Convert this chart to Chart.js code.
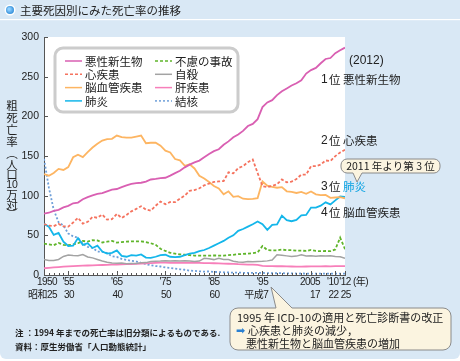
<!DOCTYPE html>
<html lang="ja">
<head>
<meta charset="utf-8">
<script src="https://cdn.jsdelivr.net/npm/chart.js@4.4.1/dist/chart.umd.min.js"></script>
<style>
  html, body { margin: 0; padding: 0; background: #fff; }
  #panel { position: absolute; left: 0; top: 0; width: 460px; height: 359px; background: #d9e8f5; border-radius: 0 0 6px 6px; }
  #c { position: absolute; left: 0; top: 0; }
</style>
</head>
<body>
<div id="panel"></div>
<canvas id="c" width="460" height="361"></canvas>
<script>
// 死亡率（人口10万対）
const years = [
  1950, 1951, 1952, 1953, 1954, 1955, 1956, 1957, 1958, 1959,
  1960, 1961, 1962, 1963, 1964, 1965, 1966, 1967, 1968, 1969,
  1970, 1971, 1972, 1973, 1974, 1975, 1976, 1977, 1978, 1979,
  1980, 1981, 1982, 1983, 1984, 1985, 1986, 1987, 1988, 1989,
  1990, 1991, 1992, 1993, 1994, 1995, 1996, 1997, 1998, 1999,
  2000, 2001, 2002, 2003, 2004, 2005, 2006, 2007, 2008, 2009,
  2010, 2011, 2012
];
const cancer = [
  77.4, 78.5, 80.8, 82.2, 85.3, 87.1, 90.4, 91.3, 95.5, 98.2,
  100.4, 102.3, 103.2, 105.5, 107.6, 108.4, 110.8, 113.0, 114.8, 115.9,
  116.3, 117.7, 120.4, 121.2, 122.2, 122.6, 125.3, 128.4, 131.3, 135.7,
  139.1, 142.0, 144.2, 148.3, 152.5, 156.1, 158.5, 164.2, 168.4, 173.6,
  177.2, 181.7, 187.8, 190.4, 196.4, 211.6, 217.5, 220.4, 226.7, 231.6,
  235.2, 238.8, 241.7, 245.4, 253.9, 258.3, 261.0, 266.9, 272.3, 273.5,
  279.7, 283.2, 286.6
];
const heart = [
  64.2, 62.2, 61.6, 64.4, 61.4, 60.9, 66.1, 72.1, 64.8, 67.0,
  73.2, 72.1, 76.2, 69.8, 70.4, 77.0, 71.9, 75.7, 80.2, 83.3,
  86.7, 82.4, 81.2, 87.3, 92.6, 89.2, 92.0, 91.8, 96.3, 100.2,
  106.2, 107.1, 109.3, 113.0, 115.3, 117.3, 117.9, 118.4, 129.4, 128.1,
  134.8, 137.2, 142.2, 145.6, 128.6, 112.0, 110.8, 112.2, 114.3, 120.4,
  116.8, 117.8, 121.0, 126.5, 126.5, 137.2, 137.2, 139.2, 144.4, 143.7,
  149.8, 154.5, 157.9
];
const stroke = [
  127.1, 125.2, 128.5, 133.7, 132.4, 136.1, 148.4, 151.7, 148.6, 154.9,
  160.7, 165.4, 169.4, 171.4, 171.7, 175.8, 173.8, 173.1, 173.1, 174.4,
  175.8, 166.1, 166.7, 166.8, 163.0, 156.7, 154.5, 146.2, 144.6, 137.7,
  139.5, 134.3, 125.0, 121.6, 117.2, 112.2, 109.1, 101.7, 105.5, 98.5,
  99.4, 96.2, 95.6, 96.0, 96.9, 117.9, 112.6, 111.0, 110.0, 110.8,
  105.5, 104.7, 103.4, 104.7, 102.3, 105.3, 101.7, 100.8, 100.9, 97.2,
  97.7, 98.2, 96.5
];
const pneumonia = [
  64.5, 60.8, 50.6, 53.0, 42.0, 36.5, 37.0, 46.6, 38.0, 40.0,
  34.0, 37.0, 29.5, 27.0, 28.0, 31.0, 24.0, 23.0, 25.0, 24.5,
  26.0, 22.0, 21.5, 23.0, 25.0, 25.5, 23.0, 22.5, 23.0, 25.0,
  27.0, 28.0, 30.0, 31.5, 34.0, 37.0, 40.0, 43.0, 47.0, 50.0,
  55.6, 58.0, 61.0, 64.0, 67.5, 64.1, 56.9, 63.1, 63.8, 74.9,
  69.2, 67.8, 69.4, 75.3, 75.7, 85.0, 85.0, 87.4, 91.6, 89.0,
  94.1, 98.9, 98.4
];
const accident = [
  39.5, 38.5, 37.5, 40.5, 38.0, 37.5, 38.5, 40.0, 43.0, 42.0,
  44.0, 43.5, 41.0, 42.0, 43.0, 40.9, 41.5, 42.0, 42.5, 42.5,
  42.5, 41.5, 40.0, 38.0, 33.0, 30.3, 28.0, 27.0, 26.0, 25.5,
  25.1, 24.5, 24.5, 24.5, 24.5, 24.6, 24.5, 24.4, 25.0, 25.5,
  26.2, 26.5, 27.0, 27.5, 28.5, 36.5, 31.4, 31.1, 31.1, 32.0,
  31.4, 31.4, 30.7, 30.7, 30.3, 31.6, 30.3, 30.1, 30.3, 30.0,
  32.2, 47.1, 32.6
];
const suicide = [
  19.6, 18.2, 18.2, 19.6, 23.4, 25.2, 24.5, 24.3, 25.7, 22.7,
  21.6, 19.6, 17.6, 16.1, 15.1, 14.7, 15.2, 14.2, 14.5, 14.5,
  15.3, 15.6, 17.0, 17.4, 17.5, 18.0, 17.6, 17.9, 17.6, 18.0,
  17.7, 17.1, 17.5, 21.0, 20.4, 19.4, 21.2, 19.6, 19.4, 17.3,
  16.4, 16.1, 16.9, 16.6, 16.9, 17.2, 17.8, 18.8, 25.4, 25.0,
  24.1, 23.3, 23.8, 25.5, 24.0, 24.2, 23.7, 24.4, 24.0, 24.4,
  23.4, 22.9, 21.0
];
const liver = [
  8.5, 9.0, 9.5, 10.0, 10.5, 11.0, 11.3, 11.5, 11.8, 12.0,
  12.2, 12.4, 12.6, 12.8, 13.0, 13.2, 13.4, 13.6, 13.8, 14.0,
  14.5, 14.8, 15.0, 15.3, 15.5, 15.5, 15.4, 15.3, 15.2, 15.2,
  15.2, 15.3, 15.2, 15.0, 14.9, 14.8, 14.6, 14.4, 14.2, 14.0,
  13.6, 13.4, 13.2, 13.0, 12.7, 11.5, 11.3, 11.1, 11.0, 11.0,
  10.8, 10.7, 10.6, 10.6, 10.7, 10.8, 10.8, 10.9, 11.0, 10.9,
  11.1, 11.2, 11.1
];
const tb = [
  146.4, 110.3, 82.2, 66.5, 62.4, 52.3, 48.6, 46.9, 39.4, 35.5,
  34.2, 29.6, 29.3, 27.7, 23.6, 22.8, 20.3, 19.0, 17.8, 17.0,
  15.4, 13.7, 12.3, 11.3, 10.7, 9.5, 8.9, 8.0, 7.2, 6.6,
  5.5, 5.2, 4.6, 4.3, 4.5, 3.9, 3.7, 3.4, 3.2, 3.0,
  3.0, 2.8, 2.7, 2.6, 2.6, 2.6, 2.3, 2.2, 2.2, 2.3,
  2.1, 2.0, 1.8, 1.9, 1.8, 1.8, 1.8, 1.7, 1.8, 1.7,
  1.7, 1.7, 1.7
];

// x軸の目盛ラベル（西暦と和暦）
const tickYears = [1950, 1955, 1965, 1975, 1985, 1995, 2005, 2010, 2012];
const tickLabels = ['1950', "'55", "'65", "'75", "'85", "'95", '2005', "'10", "'12"];
const eraLabels = ['昭和25', '30', '40', '50', '60', '平成7', '17', '22', '25'];

const LAT = '"Liberation Sans", "Noto Sans CJK JP", sans-serif';
const JP = '"Noto Sans CJK JP", sans-serif';

function pts(arr) {
  return arr.map((v, i) => ({ x: years[i], y: v }));
}

function rrect(ctx, x, y, w, h, r) {
  ctx.beginPath();
  ctx.moveTo(x + r, y);
  ctx.arcTo(x + w, y, x + w, y + h, r);
  ctx.arcTo(x + w, y + h, x, y + h, r);
  ctx.arcTo(x, y + h, x, y, r);
  ctx.arcTo(x, y, x + w, y, r);
  ctx.closePath();
}

const deco = {
  id: 'deco',
  beforeDraw(chart) {
    const { ctx, chartArea: a } = chart;
    ctx.save();
    ctx.fillStyle = '#fff';
    ctx.fillRect(a.left, a.top, a.right - a.left, a.bottom - a.top);
    ctx.restore();
  },
  afterDraw(chart) {
    const { ctx, chartArea: a } = chart;
    const xs = chart.scales.x, ys = chart.scales.y;
    ctx.save();

    // title bar
    ctx.fillStyle = '#fff';
    ctx.fillRect(0, 19, 460, 1.2);
    const g = ctx.createRadialGradient(9, 9, 1, 10, 10, 5);
    g.addColorStop(0, '#8fd0ff');
    g.addColorStop(1, '#1f7fd0');
    ctx.beginPath();
    ctx.arc(10, 10, 5.5, 0, Math.PI * 2);
    ctx.fillStyle = '#fff';
    ctx.fill();
    ctx.beginPath();
    ctx.arc(10, 10, 4, 0, Math.PI * 2);
    ctx.fillStyle = g;
    ctx.fill();
    ctx.fillStyle = '#222';
    ctx.font = '11.5px ' + JP;
    ctx.textBaseline = 'middle';
    ctx.textAlign = 'left';
    ctx.fillText('主要死因別にみた死亡率の推移', 20, 10.5);

    // inner ticks
    ctx.strokeStyle = '#555';
    ctx.lineWidth = 1;
    ys.ticks.forEach(t => {
      const py = Math.round(ys.getPixelForValue(t.value)) + 0.5;
      ctx.beginPath();
      ctx.moveTo(a.left, py);
      ctx.lineTo(a.left + 4, py);
      ctx.stroke();
    });
    years.forEach(yr => {
      const px = Math.round(xs.getPixelForValue(yr)) + 0.5;
      const len = tickYears.includes(yr) ? 4 : 2;
      ctx.beginPath();
      ctx.moveTo(px, a.bottom);
      ctx.lineTo(px, a.bottom - len);
      ctx.stroke();
    });

    // x labels
    ctx.fillStyle = '#222';
    ctx.font = '10px ' + LAT;
    ctx.letterSpacing = '-0.5px';
    const nudge = [3, 0, 0, 0, 0, 0, -1, -2.5, 0];
    tickYears.forEach((yr, i) => {
      const px = xs.getPixelForValue(yr) + nudge[i];
      const w = ctx.measureText(tickLabels[i]).width;
      ctx.textAlign = 'center';
      ctx.fillText(tickLabels[i], px, a.bottom + 7);
      ctx.textAlign = 'right';
      ctx.fillText(eraLabels[i], px + w / 2, a.bottom + 20);
    });
    ctx.textAlign = 'left';
    ctx.fillText('(年)', xs.getPixelForValue(2012) + 8, a.bottom + 7);
    ctx.letterSpacing = '0px';

    // y title (vertical)
    const yt = ['粗', '死', '亡', '率', '︵', '人', '口', '10', '万', '対', '︶'];
    const yy = [106, 118, 130, 142, 154, 165, 175, 185, 195, 205, 214];
    ctx.textAlign = 'center';
    yt.forEach((c, i) => {
      ctx.font = (c === '10' ? '10.5px ' + LAT : '11.5px ' + JP);
      ctx.fillText(c, 12, yy[i]);
    });

    // legend
    const lx = a.left + 11, ly = a.top + 11;
    rrect(ctx, lx, ly, 183, 64, 8);
    ctx.fillStyle = '#fff';
    ctx.fill();
    ctx.lineWidth = 3;
    ctx.strokeStyle = '#cccccc';
    ctx.stroke();
    const cols = [[0, 1, 2, 3], [4, 5, 6, 7]];
    const colX = [lx + 10, lx + 100];
    ctx.font = '11.5px ' + JP;
    ctx.textAlign = 'left';
    cols.forEach((col, ci) => {
      col.forEach((di, ri) => {
        const ds = chart.data.datasets[di];
        const y = ly + 13 + ri * 13.3;
        ctx.beginPath();
        ctx.setLineDash(ds.borderDash || []);
        ctx.lineWidth = 1.5;
        ctx.strokeStyle = ds.borderColor;
        ctx.moveTo(colX[ci], y);
        ctx.lineTo(colX[ci] + 17, y);
        ctx.stroke();
        ctx.setLineDash([]);
        ctx.fillStyle = '#222';
        ctx.fillText(ds.label, colX[ci] + 20, y + 0.5);
      });
    });

    // ranking notes
    ctx.fillStyle = '#222';
    ctx.font = '12px ' + LAT;
    ctx.fillText('(2012)', 349, 61);
    const ranks = [['1', '悪性新生物', 80], ['2', '心疾患', 141], ['3', '肺炎', 187], ['4', '脳血管疾患', 213]];
    ranks.forEach(r => {
      ctx.font = '12px ' + LAT;
      ctx.fillStyle = '#222';
      ctx.fillText(r[0], 321, r[2]);
      ctx.font = '11.5px ' + JP;
      ctx.fillText('位', 329, r[2]);
      ctx.fillStyle = r[0] === '3' ? '#0aa2e2' : '#222';
      ctx.fillText(r[1], 343, r[2]);
    });

    // callout 2011
    ctx.beginPath();
    ctx.moveTo(347, 159);
    ctx.lineTo(434, 159);
    ctx.arcTo(440, 159, 440, 166, 6);
    ctx.arcTo(440, 173, 434, 173, 6);
    ctx.lineTo(362, 173);
    ctx.lineTo(357, 182);
    ctx.lineTo(353, 173);
    ctx.lineTo(347, 173);
    ctx.arcTo(341, 173, 341, 166, 6);
    ctx.arcTo(341, 159, 347, 159, 6);
    ctx.closePath();
    ctx.fillStyle = '#fbf4e0';
    ctx.fill();
    ctx.lineWidth = 1;
    ctx.strokeStyle = '#8a8a8a';
    ctx.stroke();
    ctx.fillStyle = '#222';
    ctx.font = '10.5px ' + JP;
    ctx.textAlign = 'center';
    ctx.fillText('2011 年より第 3 位', 390.5, 166.5);

    // callout 1995
    const bx = 230, by = 308, bw = 221, bh = 42, br = 8;
    ctx.beginPath();
    ctx.moveTo(bx + br, by);
    ctx.lineTo(276, by);
    ctx.lineTo(271, 287);
    ctx.lineTo(292, by);
    ctx.lineTo(bx + bw - br, by);
    ctx.arcTo(bx + bw, by, bx + bw, by + br, br);
    ctx.arcTo(bx + bw, by + bh, bx + bw - br, by + bh, br);
    ctx.arcTo(bx, by + bh, bx, by + bh - br, br);
    ctx.arcTo(bx, by, bx + br, by, br);
    ctx.closePath();
    ctx.fillStyle = '#fbf4e0';
    ctx.fill();
    ctx.strokeStyle = '#8a8a8a';
    ctx.stroke();
    ctx.textAlign = 'left';
    ctx.fillStyle = '#222';
    ctx.font = '11px ' + JP;
    ctx.fillText('1995 年 ICD-10の適用と死亡診断書の改正', 237, 317.5);
    ctx.fillStyle = '#2a80d2';
    ctx.font = '11px "DejaVu Sans", sans-serif';
    ctx.fillText('➡', 236, 331);
    ctx.fillStyle = '#222';
    ctx.font = '11px ' + JP;
    ctx.fillText('心疾患と肺炎の減少，', 248, 331);
    ctx.fillText('悪性新生物と脳血管疾患の増加', 246, 344);

    // source notes
    ctx.font = 'bold 8.5px ' + JP;
    ctx.fillText('注 ：1994 年までの死亡率は旧分類によるものである.', 15, 333);
    ctx.fillText('資料：厚生労働省「人口動態統計」', 15, 347);

    ctx.restore();
  }
};

new Chart(document.getElementById('c'), {
  type: 'line',
  data: {
    datasets: [
      { label: '悪性新生物', data: pts(cancer), borderColor: '#d95fb2', borderWidth: 1.8 },
      { label: '心疾患', data: pts(heart), borderColor: '#f5735f', borderWidth: 1.8, borderDash: [3, 2] },
      { label: '脳血管疾患', data: pts(stroke), borderColor: '#fdb562', borderWidth: 1.8 },
      { label: '肺炎', data: pts(pneumonia), borderColor: '#14b6ea', borderWidth: 1.8 },
      { label: '不慮の事故', data: pts(accident), borderColor: '#5fb52a', borderWidth: 1.8, borderDash: [3, 2] },
      { label: '自殺', data: pts(suicide), borderColor: '#a3a3a3', borderWidth: 1.5 },
      { label: '肝疾患', data: pts(liver), borderColor: '#f77fba', borderWidth: 1.8 },
      { label: '結核', data: pts(tb), borderColor: '#6e9fd9', borderWidth: 1.8, borderDash: [2, 2] }
    ]
  },
  options: {
    responsive: false,
    animation: false,
    devicePixelRatio: 1,
    elements: { point: { radius: 0 }, line: { tension: 0 } },
    layout: { padding: { left: 0, top: 37, right: 115, bottom: 0 } },
    plugins: { legend: { display: false }, tooltip: { enabled: false } },
    scales: {
      x: {
        type: 'linear', min: 1950, max: 2012,
        ticks: { display: false },
        grid: { drawOnChartArea: false, drawTicks: false },
        border: { color: '#555', width: 1 },
        afterFit(s) { s.height = 86; }
      },
      y: {
        min: 0, max: 300,
        ticks: { stepSize: 50, color: '#222', padding: 5, font: { size: 10.5, family: LAT } },
        grid: { drawOnChartArea: false, drawTicks: false },
        border: { color: '#555', width: 1 },
        afterFit(s) { s.width = 44; }
      }
    }
  },
  plugins: [deco]
});
</script>
</body>
</html>
